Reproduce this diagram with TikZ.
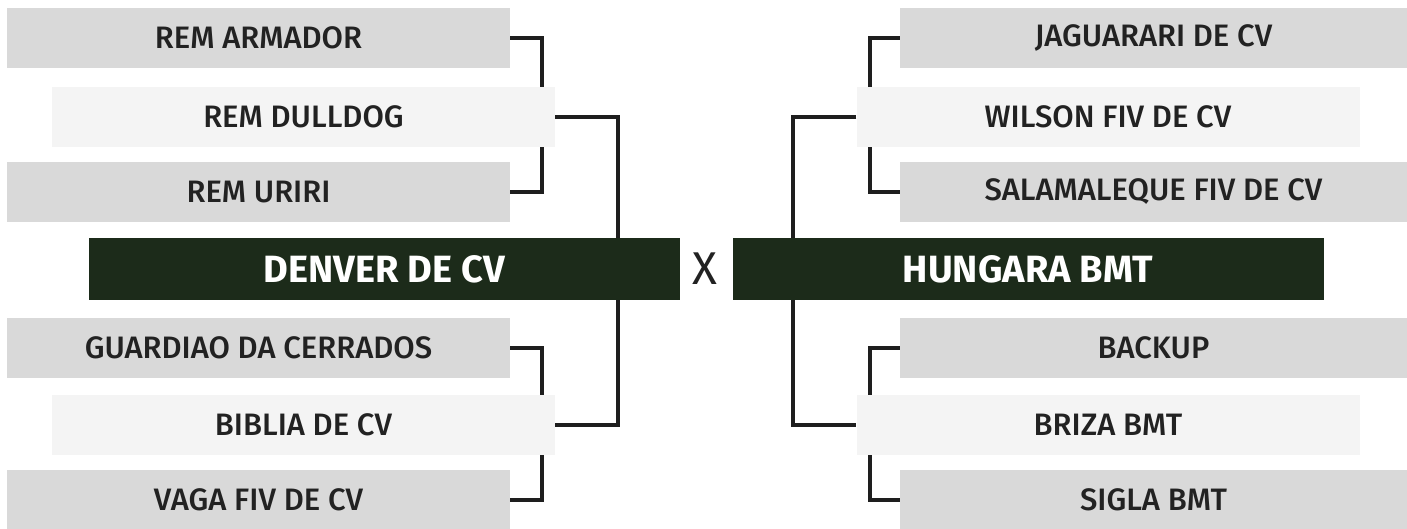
\documentclass[tikz,border=0pt]{standalone}
\usepackage{fontspec}
\setmainfont{Fira Sans}[UprightFont=* Medium,BoldFont=* Bold]
\newfontfamily\versusfont{Fira Sans}
\definecolor{boxgray}{HTML}{D9D9D9}
\definecolor{boxlight}{HTML}{F4F4F4}
\definecolor{teamgreen}{HTML}{1C2B1A}
\definecolor{linkgray}{HTML}{1E1E1E}
\definecolor{labelgray}{HTML}{222222}

\begin{document}
\begin{tikzpicture}[x=1pt,y=-1pt,
  seedbox/.style={fill=boxgray,minimum width=503pt,minimum height=60pt,inner sep=0pt,
    text=labelgray,font=\fontsize{31}{31}\selectfont},
  midbox/.style={seedbox,fill=boxlight},
  teambox/.style={fill=teamgreen,minimum width=591pt,minimum height=61pt,inner sep=0pt,
    text=white,font=\fontsize{38}{38}\selectfont\bfseries},
  link/.style={draw=linkgray,line width=4pt,line join=miter}]
\useasboundingbox (0,0) rectangle (1407,529);

% left side
\node[seedbox] (armador) at (258.5,38) {REM ARMADOR};
\node[midbox] (dulldog) at (303.5,117) {REM DULLDOG};
\node[seedbox] (uriri) at (258.5,192) {REM URIRI};
\node[teambox] (denver) at (384.5,269) {DENVER DE CV};
\node[seedbox] (guardiao) at (258.5,348) {GUARDIAO DA CERRADOS};
\node[midbox] (biblia) at (303.5,425) {BIBLIA DE CV};
\node[seedbox] (vaga) at (258.5,500) {VAGA FIV DE CV};

% right side
\node[seedbox,minimum width=507pt] (jaguarari) at (1153.5,38) {JAGUARARI DE CV};
\node[midbox] (wilson) at (1108,117) {WILSON FIV DE CV};
\node[seedbox,minimum width=507pt] (salamaleque) at (1153.5,192) {SALAMALEQUE FIV DE CV};
\node[teambox] (hungara) at (1028,269) {HUNGARA BMT};
\node[seedbox,minimum width=507pt] (backup) at (1153.5,348) {BACKUP};
\node[midbox] (briza) at (1108,425) {BRIZA BMT};
\node[seedbox,minimum width=507pt] (sigla) at (1153.5,500) {SIGLA BMT};

\node[text=labelgray,font=\fontsize{46}{46}\versusfont] (versus) at (705,269) {X};

% brackets
\foreach \top/\mid/\bot in {armador/dulldog/uriri,guardiao/biblia/vaga} {
  \draw[link] (\top.east) -| ([xshift=-13.5pt]\mid.north east);
  \draw[link] ([xshift=-13.5pt]\mid.south east) |- (\bot.east);
}
\foreach \top/\mid/\bot in {jaguarari/wilson/salamaleque,backup/briza/sigla} {
  \draw[link] (\top.west) -| ([xshift=14pt]\mid.north west);
  \draw[link] ([xshift=14pt]\mid.south west) |- (\bot.west);
}
\draw[link] (dulldog.east) -| ([xshift=-62.5pt]denver.north east);
\draw[link] ([xshift=-62.5pt]denver.south east) |- (biblia.east);
\draw[link] (wilson.west) -| ([xshift=61pt]hungara.north west);
\draw[link] ([xshift=61pt]hungara.south west) |- (briza.west);
\end{tikzpicture}
\end{document}
